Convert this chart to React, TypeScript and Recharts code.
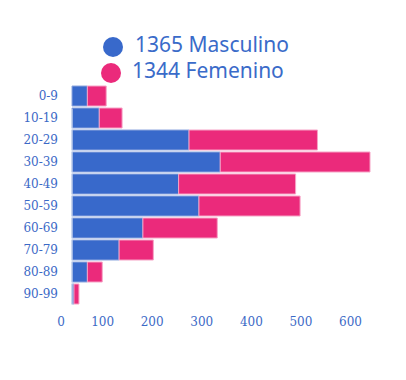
import { BarChart, Bar, XAxis, YAxis, ReferenceLine } from 'recharts'

const ageGroups = ['0-9', '10-19', '20-29', '30-39', '40-49', '50-59', '60-69', '70-79', '80-89', '90-99']
const masculino = [31, 55, 236, 299, 215, 256, 143, 95, 31, 4]
const femenino = [38, 46, 259, 302, 236, 204, 150, 69, 30, 10]
const xTicks = [0, 100, 200, 300, 400, 500, 600]

const legendItems = [
  { label: '1365 Masculino', color: '#3869cb', top: 22, left: 95, gap: 12 },
  { label: '1344 Femenino', color: '#eb2a7b', top: 48, left: 93, gap: 11 },
]

const data = ageGroups.map((g, i) => ({ group: g, masculino: masculino[i], femenino: femenino[i] }))

const BLUE_TEXT = '#3b69c6'

function XTick({ x, y, payload }: any) {
  const shift = payload.value === 0 ? -11 : -19
  return (
    <text x={x + shift} y={y} dy="0.71em" textAnchor="middle" fill={BLUE_TEXT}
      fontSize={12} fontFamily="DejaVu Serif">
      {payload.value}
    </text>
  )
}

function AxisLine(props: any) {
  const { x1, y1, x2, y2 } = props
  return <line x1={x1} y1={y1} x2={x2} y2={y2 + 24} stroke="#d3ddef" strokeWidth={1} />
}

export default function App() {
  return (
    <div style={{ position: 'relative', width: 390, height: 364 }}>
      {legendItems.map(item => (
        <div key={item.label} style={{
          position: 'absolute', top: item.top, left: item.left, display: 'flex', alignItems: 'center',
          fontFamily: 'Noto Sans', fontSize: 21, color: '#3a6bc9', whiteSpace: 'nowrap',
        }}>
          <span style={{ width: 20, height: 20, borderRadius: 10, background: item.color, marginRight: item.gap, marginTop: 5 }} />
          {item.label}
        </div>
      ))}
      <BarChart width={390} height={364} data={data} layout="vertical"
        margin={{ top: 77, right: 28, bottom: 37, left: 0 }} barCategoryGap={1}>
        <XAxis type="number" domain={[0, 'dataMax']} ticks={xTicks} axisLine={false} tickLine={false}
          tickMargin={6} height={30} tick={<XTick />} />
        <YAxis type="category" dataKey="group" width={64} axisLine={false} tickLine={false} tickMargin={8}
          tick={{ fill: BLUE_TEXT, fontSize: 12, fontFamily: 'DejaVu Serif' }} />
        <Bar dataKey="masculino" stackId="a" fill="#3869cb" stroke="#8ea7de" strokeWidth={1} isAnimationActive={false} />
        <Bar dataKey="femenino" stackId="a" fill="#eb2a7b" stroke="#f6a3c6" strokeWidth={1} isAnimationActive={false} />
        <ReferenceLine x={0} shape={<AxisLine />} />
      </BarChart>
    </div>
  )
}
